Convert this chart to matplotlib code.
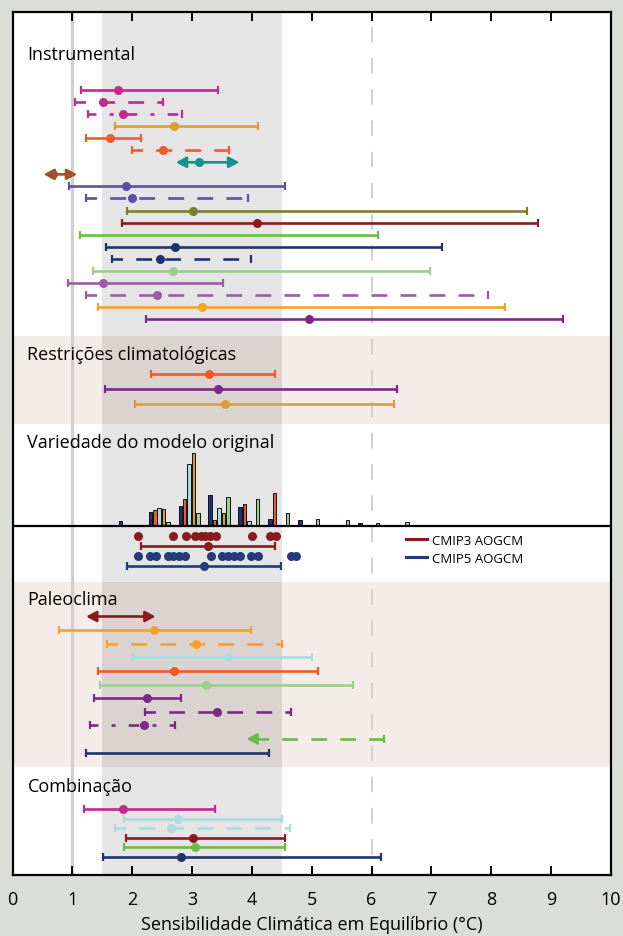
import numpy as np
import matplotlib
matplotlib.use("Agg")
import matplotlib.pyplot as plt
from matplotlib.lines import Line2D

plt.rcParams['font.family'] = ['Open Sans', 'DejaVu Sans']

# ---- data (ECS in degC) ----
# Instrumental
inst_lo   = [1.14, 1.05, 1.26, 1.71, 1.23, 1.99, 2.73, 0.52, 0.95, 1.23, 1.91, 1.83, 1.12, 1.57, 1.67, 1.35, 0.93, 1.23, 1.43, 2.23]
inst_best = [1.76, 1.52, 1.84, 2.70, 1.63, 2.52, 3.11, 0.68, 1.89, 1.99, 3.01, 4.09, np.nan, 2.72, 2.46, 2.68, 1.51, 2.42, 3.16, 4.96]
inst_hi   = [3.43, 2.52, 2.83, 4.11, 2.15, 3.62, 3.79, 1.08, 4.56, 3.93, 8.60, 8.78, 6.10, 7.17, 3.99, 6.97, 3.51, 7.95, 8.23, 9.20]
inst_colors = ['#c6288e', '#c6288e', '#c6288e', '#d9a02f', '#f15a2b', '#f15a2b', '#17918a', '#a0522d',
               '#5e4fa2', '#5e4fa2', '#7a7d32', '#8b1a1e', '#6cbb45', '#1f3370', '#1f3370', '#99d18b',
               '#9c5aa8', '#9c5aa8', '#f7a12c', '#7a2a86']
inst_styles = ['solid', 'dashed', 'dashdot', 'solid', 'solid', 'dashed', 'arrow', 'arrow',
               'solid', 'dashed', 'solid', 'solid', 'solid', 'solid', 'dashed', 'solid',
               'solid', 'dashed', 'solid', 'solid']

# Climatological constraints
clim_lo   = [2.31, 1.55, 2.05]
clim_best = [3.29, 3.44, 3.55]
clim_hi   = [4.39, 6.42, 6.37]
clim_colors = ['#f15a2b', '#7a2a86', '#d9a02f']
clim_styles = ['solid', 'solid', 'solid']

# Raw model range histogram (bin centres, heights)
hist_bins = [1.45, 1.95, 2.45, 2.95, 3.45, 3.95, 4.45, 4.95, 5.45, 5.95, 6.45, 6.95, 7.45, 7.95, 8.45]
hist_navy   = [1, 5, 14, 20, 31, 19, 7, 6, 1, 3, 1, 1.5, 1, 1, 0]
hist_orange = [0, 0, 16.5, 27, 6, 22, 33, 0, 0, 0, 0, 0, 0, 0, 0]
hist_lblue  = [0, 1, 18.5, 62, 18, 5, 0, 0, 0, 0, 0, 0, 0, 0, 0]
hist_gold   = [0, 0, 17, 73, 13, 0, 0, 0, 0, 0, 0, 0, 0, 0, 0]
hist_green  = [0, 0, 4, 13, 29, 27, 13.5, 7.5, 6, 3, 4, 1.5, 1, 0, 1]
hist_colors = ['#1f3370', '#f15a2b', '#a8dce2', '#d9a02f', '#99d18b']

# CMIP ensembles
cmip3_ecs = [2.10, 2.68, 2.90, 3.05, 3.15, 3.22, 3.30, 3.40, 4.00, 4.30, 4.40]
cmip3_range = [2.14, 3.26, 4.39]
cmip5_ecs = [2.10, 2.29, 2.39, 2.59, 2.69, 2.78, 2.88, 3.31, 3.50, 3.60, 3.70, 3.80, 3.99, 4.10, 4.66, 4.73]
cmip5_range = [1.92, 3.20, 4.49]

# Palaeoclimate
paleo_lo   = [1.23, 0.78, 1.58, 2.02, 1.43, 1.47, 1.37, 2.22, 1.30, 3.91, 1.22]
paleo_best = [np.nan, 2.37, 3.06, 3.60, 2.70, 3.24, 2.25, 3.41, 2.19, np.nan, np.nan]
paleo_hi   = [2.39, 3.99, 4.51, 5.00, 5.11, 5.69, 2.82, 4.66, 2.72, 6.20, 4.29]
paleo_colors = ['#8b1a1e', '#f7a12c', '#f7a12c', '#a8dce2', '#f15a2b', '#99d18b',
                '#7a2a86', '#7a2a86', '#7a2a86', '#6cbb45', '#1f3370']
paleo_styles = ['arrow', 'solid', 'dashed', 'solid', 'solid', 'solid',
                'solid', 'dashed', 'dashdot', 'leftarrow', 'solid']

# Combination
comb_lo   = [1.20, 1.87, 1.71, 1.89, 1.87, 1.52]
comb_best = [1.85, 2.76, 2.64, 3.02, 3.05, 2.81]
comb_hi   = [3.38, 4.51, 4.64, 4.56, 4.55, 6.15]
comb_colors = ['#c6288e', '#a8dce2', '#a8dce2', '#8b1a1e', '#6cbb45', '#1f3370']
comb_styles = ['solid', 'solid', 'dashed', 'solid', 'solid', 'solid']

section_titles = ['Instrumental', 'Restrições climatológicas', 'Variedade do modelo original',
                  'Paleoclima', 'Combinação']

# ---- figure ----
BG = '#dbded8'
PINK = '#f4ece8'
LW = 1.9
DASHES = {'solid': '-', 'dashed': (2, (6, 5)), 'dashdot': (1, (4, 5, 1.5, 5)),
          'arrow': '-', 'leftarrow': (2, (6, 5))}

fig = plt.figure(figsize=(6.23, 9.37), dpi=100, facecolor=BG)
ax = fig.add_axes([12.5 / 623, 1 - 876 / 937, 598.5 / 623, 863 / 937])
ax.set_xlim(0, 10)
ax.set_ylim(876, 13)   # vertical layout in pixel-like units from the top

# background bands
ax.axhspan(337, 425, color=PINK, zorder=0, lw=0)
ax.axhspan(583, 768, color=PINK, zorder=0, lw=0)
ax.axvspan(1.5, 4.5, color='black', alpha=0.1, zorder=1, lw=0)
ax.axvline(1, color='#cfcfcf', lw=2.3, zorder=1)
ax.plot([6, 6], [13, 876], color='#d2d2d2', lw=1.5, ls=(8, (7.5, 7.5)), zorder=1)
ax.axhline(527, color='black', lw=1.6, zorder=5)


def draw_rows(lo, best, hi, colors, styles, y0, dy):
    ys = y0 + dy * np.arange(len(lo))
    for l, b, h, c, s, y in zip(lo, best, hi, colors, styles, ys):
        if s == 'arrow':
            ax.annotate('', xy=(l, y), xytext=(h, y),
                        arrowprops=dict(arrowstyle='<|-|>,head_length=0.6,head_width=0.32',
                                        color=c, lw=LW, shrinkA=0, shrinkB=0), zorder=4)
        elif s == 'leftarrow':
            ax.plot([l + 0.2, h], [y, y], color=c, lw=LW, ls=DASHES[s], zorder=4)
            ax.annotate('', xy=(l, y), xytext=(l + 0.2, y),
                        arrowprops=dict(arrowstyle='-|>,head_length=0.6,head_width=0.32',
                                        color=c, lw=LW, shrinkA=0, shrinkB=0), zorder=4)
            ax.plot([h], [y], color=c, marker='|', ms=6, mew=1.6, ls='none', zorder=4)
        else:
            ax.plot([l, h], [y, y], color=c, lw=LW, ls=DASHES[s], zorder=4,
                    solid_capstyle='butt', dash_capstyle='butt')
            ax.plot([l, h], [y, y], color=c, marker='|', ms=6, mew=1.6, ls='none', zorder=4)
        if not np.isnan(b):
            ax.plot([b], [y], 'o', color=c, ms=6.5, mec='none', zorder=5)


draw_rows(inst_lo, inst_best, inst_hi, inst_colors, inst_styles, 91, 12.05)
draw_rows(clim_lo, clim_best, clim_hi, clim_colors, clim_styles, 375, 14.8)
draw_rows(paleo_lo, paleo_best, paleo_hi, paleo_colors, paleo_styles, 617.5, 13.6)
draw_rows(comb_lo, comb_best, comb_hi, comb_colors, comb_styles, 810, 9.6)

# histogram
hist_series = [hist_navy, hist_orange, hist_lblue, hist_gold, hist_green]
bins = np.array(hist_bins)
for i, (vals, c) in enumerate(zip(hist_series, hist_colors)):
    v = np.array(vals, dtype=float)
    m = v > 0
    ax.bar(bins[m] + (i - 2) * 0.073, -v[m], bottom=527, width=0.06,
           color=c, edgecolor='#111111', lw=0.7, zorder=3)

# CMIP ensembles
ax.plot(cmip3_ecs, [536.5] * len(cmip3_ecs), 'o', color='#8b1a1e', ms=6.5, mec='none', zorder=5)
draw_rows([cmip3_range[0]], [cmip3_range[1]], [cmip3_range[2]], ['#8b1a1e'], ['solid'], 547, 0)
ax.plot(cmip5_ecs, [557] * len(cmip5_ecs), 'o', color='#243a7a', ms=6.5, mec='none', zorder=5)
draw_rows([cmip5_range[0]], [cmip5_range[1]], [cmip5_range[2]], ['#243a7a'], ['solid'], 567.3, 0)

handles = [Line2D([], [], color='#8b1a1e', lw=2.2), Line2D([], [], color='#243a7a', lw=2.2)]
ax.legend(handles, ['CMIP3 AOGCM', 'CMIP5 AOGCM'], loc='upper left',
          bbox_to_anchor=(0.657, 1 - (535 - 13) / 863), frameon=False, fontsize=9.5,
          handlelength=1.6, handletextpad=0.4, labelspacing=0.35, borderpad=0, borderaxespad=0)

# section titles
for t, y in zip(section_titles, [55, 355, 443, 600, 787]):
    ax.text(0.25, y, t, fontsize=13, va='center', ha='left', zorder=6)

# axes styling
for sp in ax.spines.values():
    sp.set_linewidth(1.6)
    sp.set_zorder(6)
ax.set_xticks(range(11))
ax.set_yticks([])
ax.tick_params(axis='x', direction='in', top=True, bottom=True, length=6.5, width=1.4,
               labelsize=13, pad=11)
ax.set_xlabel('Sensibilidade Climática em Equilíbrio (°C)', fontsize=13, labelpad=5)

fig.savefig('out.png', dpi=100, facecolor=BG)
